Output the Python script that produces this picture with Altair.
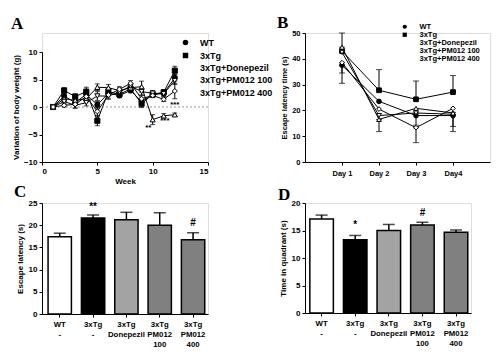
import altair as alt
import pandas as pd

FONT = "Liberation Sans"
SERIF = "Liberation Serif"

series = ["WT", "3xTg", "3xTg+Donepezil", "3xTg+PM012 100", "3xTg+PM012 400"]
shapes = ["circle", "square", "triangle-up", "triangle-down", "diamond"]
fills = ["black", "black", "white", "white", "white"]

# ---- Panel A: body weight variation ----
weeks = [1, 2, 3, 4, 5, 6, 7, 8, 9, 10, 11, 12]
a_wt = [0, 2.0, 0.8, 2.3, 0.4, 2.5, 2.1, 3.0, 1.0, 2.2, 2.5, 5.3]
a_tg = [0, 3.0, 1.9, 2.8, -2.5, 2.8, 2.3, 3.3, 0.6, 2.3, 2.7, 6.6]
a_don = [0, 1.5, 1.2, 1.5, 3.6, 3.5, 3.0, 3.5, 3.7, -2.3, -1.6, -1.4]
a_pm100 = [0, 1.0, 0.3, 0.8, 2.0, 2.0, 2.7, 3.8, 2.8, 2.5, 2.4, 4.8]
a_pm400 = [0, 0.3, 0.5, 1.9, -0.8, 2.2, 3.2, 4.3, 1.5, 2.1, 1.4, 2.9]
e_wt = [0, 0.4, 0.5, 0.5, 0.6, 0.5, 0.4, 0.4, 0.6, 0.4, 0.4, 0.6]
e_tg = [0, 0.5, 0.5, 0.8, 0.9, 0.5, 0.4, 0.5, 0.7, 0.4, 0.4, 0.8]
e_don = [0, 0.5, 0.6, 0.6, 0.6, 0.6, 0.5, 0.6, 1.0, 0.9, 0.4, 0.3]
e_pm100 = [0, 0.5, 0.5, 0.6, 0.8, 0.6, 0.5, 0.5, 0.6, 0.5, 0.5, 0.7]
e_pm400 = [0, 0.3, 0.7, 0.6, 0.8, 0.6, 0.5, 0.5, 0.6, 0.4, 0.4, 1.4]
a_sig_week = [9.6, 11.1, 12.0]
a_sig_val = [-3.8, -2.6, 0.4]
a_sig_text = ["**", "***", "***"]

# ---- Panel B: escape latency over days ----
days = ["Day 1", "Day 2", "Day 3", "Day4"]
b_wt = [37.5, 23.5, 18.0, 18.0]
b_tg = [43.0, 27.8, 24.3, 27.1]
b_don = [44.5, 16.5, 20.8, 19.0]
b_pm100 = [42.5, 18.0, 19.0, 18.5]
b_pm400 = [38.5, 20.5, 13.3, 20.8]
b_err_series = ["WT", "3xTg+PM012 400", "3xTg+Donepezil", "3xTg", "3xTg+Donepezil",
                "3xTg", "3xTg+PM012 400", "3xTg+PM012 100", "3xTg", "WT", "3xTg+PM012 100"]
b_err_day = ["Day 1", "Day 1", "Day 1", "Day 2", "Day 2",
             "Day 3", "Day 3", "Day 3", "Day4", "Day4", "Day4"]
b_err_lo = [30.5, 34.5, 44.5, 27.8, 11.8, 24.3, 7.5, 14.3, 27.1, 11.8, 13.8]
b_err_hi = [37.5, 38.5, 50.0, 35.8, 16.5, 31.4, 13.3, 19.0, 33.5, 18.0, 18.5]

# ---- Panels C and D: bars ----
groups = ["WT|-", "3xTg|-", "3xTg|Donepezil", "3xTg|PM012|100", "3xTg|PM012|400"]
bar_fill = ["white", "black", "#a3a3a3", "#808080", "#808080"]
c_vals = [17.4, 21.6, 21.2, 20.0, 16.7]
c_err = [0.8, 0.7, 1.7, 2.8, 1.6]
c_sig = ["", "**", "", "", "#"]
c_sig_y = [0, 24.2, 0, 0, 20.4]
d_vals = [17.1, 13.3, 15.0, 16.0, 14.7]
d_err = [0.7, 0.8, 1.1, 0.5, 0.4]
d_sig = ["", "*", "", "#", ""]
d_sig_y = [0, 16.0, 0, 18.1, 0]


def letter(t, dx, off, dy=0):
    return alt.TitleParams(text=t, font=SERIF, fontSize=17, fontWeight="bold",
                           anchor="start", frame="group", dx=dx, dy=dy, offset=off,
                           color="black")


def axis(fs, title=None, **kw):
    d = dict(labelFont=FONT, labelFontWeight="bold", labelFontSize=fs,
             titleFont=FONT, titleFontWeight="bold", titleFontSize=fs,
             domainColor="black", tickColor="black", labelColor="black",
             titleColor="black", grid=False, tickSize=3, labelPadding=2,
             labelOverlap=False)
    d.update(kw)
    if title is not None:
        d["title"] = title
    return alt.Axis(**d)


def legend(fs, lx, ly, rowpad, sym, loff):
    return alt.Legend(title=None, orient="none", legendX=lx, legendY=ly,
                      labelFont=FONT, labelFontWeight="bold", labelFontSize=fs,
                      labelColor="black", symbolStrokeColor="black",
                      symbolStrokeWidth=1, symbolSize=sym, rowPadding=rowpad,
                      labelOffset=loff)


# ===== Panel A =====
rows = []
for s, vals, errs in zip(series, [a_wt, a_tg, a_don, a_pm100, a_pm400],
                         [e_wt, e_tg, e_don, e_pm100, e_pm400]):
    for w, v, e in zip(weeks, vals, errs):
        rows.append({"week": w, "series": s, "value": v, "lo": v - e, "hi": v + e})
dfA = pd.DataFrame(rows)
xScaleA = alt.Scale(domain=[0, 15], nice=False)
xAxisA = axis(8, "Week", values=[0, 5, 10, 15], titlePadding=2)
yScaleA = alt.Scale(domain=[-10, 10], range=[129, 19], nice=False)
yAxisA = axis(8, "Variation of body weight (g)", values=[-10, -5, 0, 5, 10], titlePadding=3)


def xa(f="week:Q"):
    return alt.X(f, scale=xScaleA, axis=xAxisA)


def ya(f):
    return alt.Y(f, scale=yScaleA, axis=yAxisA)


baseA = alt.Chart(dfA)
lineA = baseA.mark_line(color="black", strokeWidth=1).encode(
    x=xa(), y=ya("value:Q"), detail="series:N")
zeroA = alt.Chart(pd.DataFrame({"z": [0]})).mark_rule(
    color="#777", strokeDash=[2, 2], strokeWidth=0.8).encode(y=ya("z:Q"))
errA = baseA.mark_rule(color="black", strokeWidth=1).encode(
    x=xa(), y=ya("lo:Q"), y2="hi:Q")
capA = baseA.transform_fold(["lo", "hi"], as_=["k", "cap"]).mark_tick(
    orient="horizontal", color="black", size=5, thickness=1).encode(
    x=xa(), y=ya("cap:Q"))
legA = legend(9, 139, 5, 2, 30, 10)
ptsA = baseA.mark_point(size=26, stroke="black", strokeWidth=1, opacity=1).encode(
    x=xa(), y=ya("value:Q"),
    shape=alt.Shape("series:N", scale=alt.Scale(domain=series, range=shapes), legend=legA),
    fill=alt.Fill("series:N", scale=alt.Scale(domain=series, range=fills), legend=legA))
sigA = alt.Chart(pd.DataFrame({"week": a_sig_week, "val": a_sig_val, "t": a_sig_text})).mark_text(
    font=FONT, fontWeight="bold", fontSize=8, color="black").encode(
    x=xa(), y=ya("val:Q"), text="t:N")
panelA = alt.layer(lineA, zeroA, errA, capA, ptsA, sigA).properties(
    width=166, height=129, title=letter("A", -31, 5, dy=5))

# ===== Panel B =====
rows = []
for s, vals in zip(series, [b_wt, b_tg, b_don, b_pm100, b_pm400]):
    for d, v in zip(days, vals):
        rows.append({"day": d, "series": s, "value": v})
dfB = pd.DataFrame(rows)
dfBe = pd.DataFrame({"series": b_err_series, "day": b_err_day, "lo": b_err_lo, "hi": b_err_hi})
xScaleB = alt.Scale(type="point", domain=days, padding=1.05)
xAxisB = axis(7.5, "", labelAngle=0, labelPadding=4)
yScaleB = alt.Scale(domain=[0, 50], nice=False)
yAxisB = axis(7.5, "Escape latency time (s)", values=[0, 10, 20, 30, 40, 50], titlePadding=3)


def xb():
    return alt.X("day:N", scale=xScaleB, sort=days, axis=xAxisB)


def yb(f):
    return alt.Y(f, scale=yScaleB, axis=yAxisB)


lineB = alt.Chart(dfB).mark_line(color="black", strokeWidth=1).encode(
    x=xb(), y=yb("value:Q"), detail="series:N")
errB = alt.Chart(dfBe).mark_rule(color="black", strokeWidth=1).encode(
    x=xb(), y=yb("lo:Q"), y2="hi:Q")
capB = alt.Chart(dfBe).transform_fold(["lo", "hi"], as_=["k", "cap"]).mark_tick(
    orient="horizontal", color="black", size=6, thickness=1).encode(
    x=xb(), y=yb("cap:Q"))
legB = legend(7.5, 96, -10, -1.5, 18, 11)
ptsB = alt.Chart(dfB).mark_point(size=22, stroke="black", strokeWidth=1, opacity=1).encode(
    x=xb(), y=yb("value:Q"),
    shape=alt.Shape("series:N", scale=alt.Scale(domain=series, range=shapes), legend=legB),
    fill=alt.Fill("series:N", scale=alt.Scale(domain=series, range=fills), legend=legB))
panelB = alt.layer(lineB, errB, capB, ptsB).properties(
    width=185, height=129, title=letter("B", -28, 6, dy=15))


# ===== Panels C / D =====
def bar_panel(vals, errs, sig, sig_y, ymax, ytitle, w, h, pad_outer, align, let, dx, off, dy):
    df = pd.DataFrame({"g": groups, "v": vals, "hi": [a + b for a, b in zip(vals, errs)],
                       "f": bar_fill, "s": sig, "sy": sig_y})
    xs = alt.Scale(domain=groups, paddingInner=0.3, paddingOuter=pad_outer, align=align)
    xax = axis(7.8, "", labelAngle=0, labelExpr="split(datum.label, '|')",
               labelLineHeight=10, labelPadding=3, labelBaseline="top")
    ys = alt.Scale(domain=[0, ymax], nice=False)
    yax = axis(8, ytitle, values=list(range(0, ymax + 1, 5)), titlePadding=4)

    def xc():
        return alt.X("g:N", scale=xs, sort=groups, axis=xax)

    def yc(f):
        return alt.Y(f, scale=ys, axis=yax)

    base = alt.Chart(df)
    bars = base.mark_bar(stroke="black", strokeWidth=1.5).encode(
        x=xc(), y=yc("v:Q"), fill=alt.Fill("f:N", scale=None))
    err = base.mark_rule(color="black", strokeWidth=1.5).encode(
        x=xc(), y=yc("v:Q"), y2="hi:Q")
    cap = base.mark_tick(orient="horizontal", color="black", size=12, thickness=1.5).encode(
        x=xc(), y=yc("hi:Q"))
    txt = base.transform_filter("datum.s != ''").mark_text(
        font=FONT, fontWeight="bold", fontSize=10, color="black").encode(
        x=xc(), y=yc("sy:Q"), text="s:N")
    return alt.layer(err, cap, bars, txt).properties(
        width=w, height=h, title=letter(let, dx, off, dy=dy))


panelC = bar_panel(c_vals, c_err, c_sig, c_sig_y, 25, "Escape latency (s)",
                   166, 111, 0.14, 0.65, "C", -28, 6, 8)
panelD = bar_panel(d_vals, d_err, d_sig, d_sig_y, 20, "Time in quadrant (s)",
                   166, 110, 0.12, 0.6, "D", -27, 5, 10)

chart = alt.concat(panelA, panelB, panelC, panelD, columns=2, bounds="flush",
                   spacing={"row": 41, "column": 97}).resolve_scale(
    shape="independent", fill="independent", x="independent", y="independent").resolve_legend(
    shape="independent", fill="independent").properties(
    padding={"left": 2, "top": 5, "right": 0, "bottom": 0}
).configure_view(stroke=None).configure(background="white")

chart.save("out.html", embed_options={"renderer": "svg", "actions": False})
